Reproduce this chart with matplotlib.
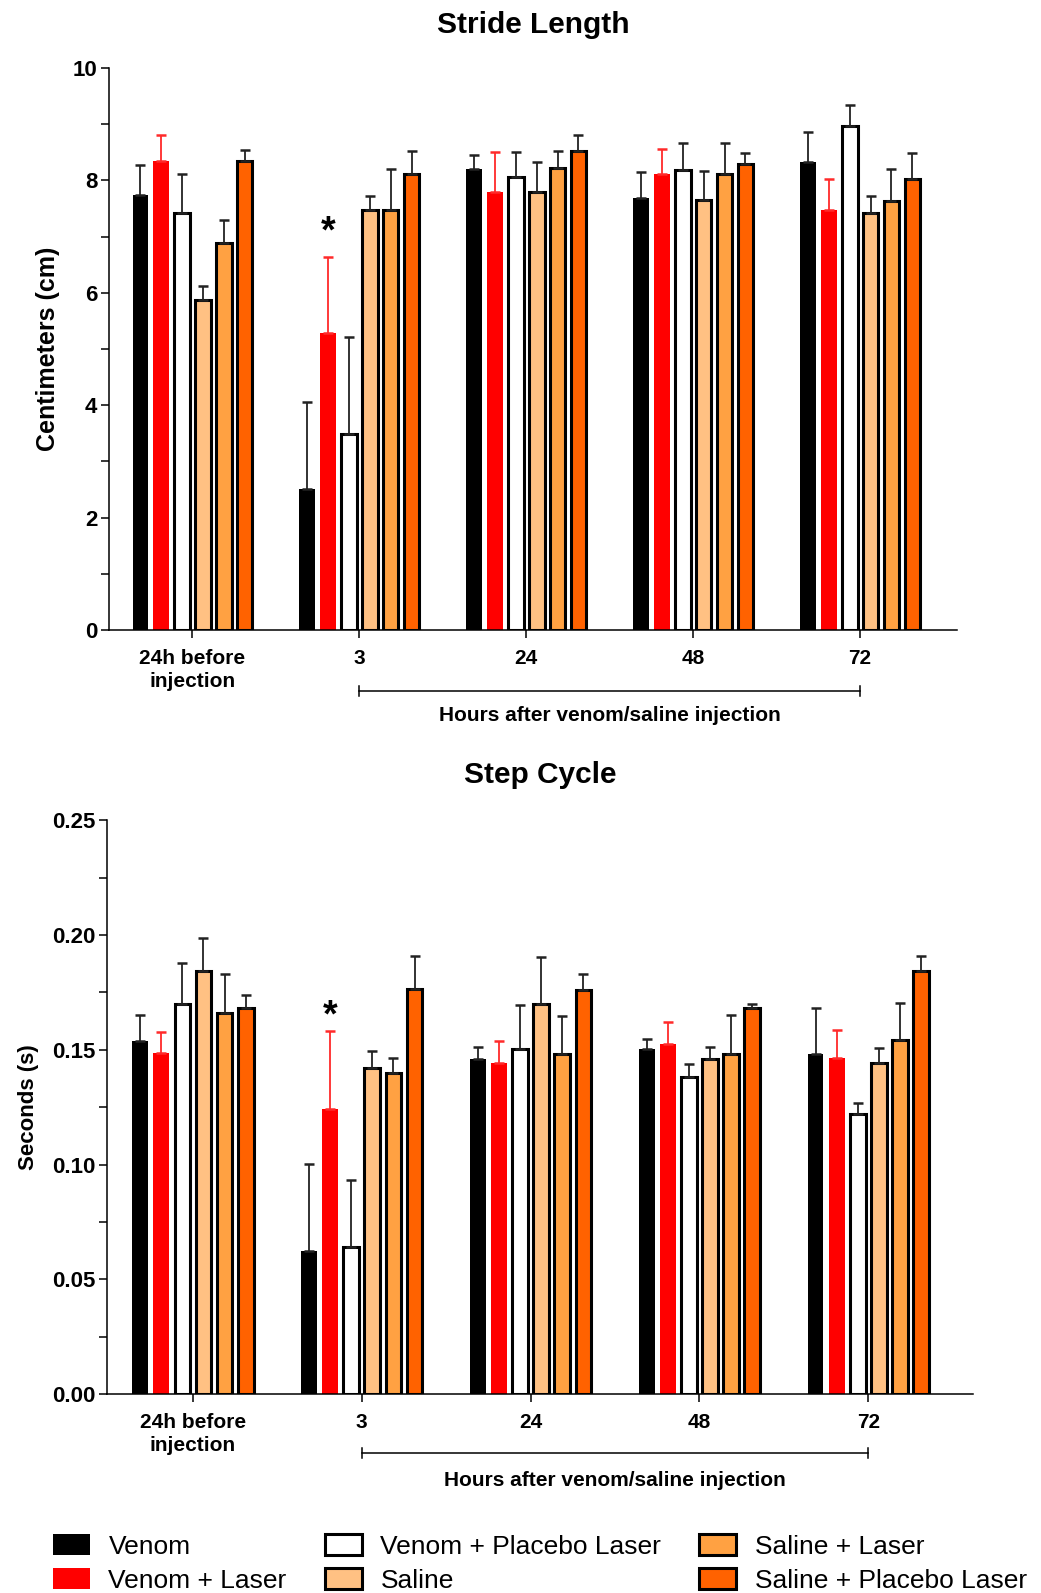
import matplotlib.pyplot as plt
import numpy as np
from matplotlib.ticker import MultipleLocator
import matplotlib.transforms as mtransforms

plt.rcParams['font.family'] = ['Liberation Sans', 'DejaVu Sans']

# groups and series
groups = ['24h before\ninjection', '3', '24', '48', '72']
series = ['Venom', 'Venom + Laser', 'Venom + Placebo Laser',
          'Saline', 'Saline + Laser', 'Saline + Placebo Laser']
face_colors = ['black', '#ff0000', 'white', '#ffc183', '#ffa142', '#ff6200']
edge_colors = ['black', '#ff0000', 'black', 'black', 'black', 'black']
err_colors = ['#222222', '#ff2a2a', '#222222', '#222222', '#222222', '#222222']

# Stride length (cm): means and SEM
stride_venom = [7.74, 2.51, 8.21, 7.68, 8.32]
stride_venom_err = [0.53, 1.55, 0.25, 0.47, 0.55]
stride_venom_laser = [8.35, 5.28, 7.79, 8.12, 7.48]
stride_venom_laser_err = [0.45, 1.36, 0.72, 0.44, 0.54]
stride_venom_placebo = [7.42, 3.48, 8.06, 8.19, 8.96]
stride_venom_placebo_err = [0.69, 1.73, 0.45, 0.48, 0.39]
stride_saline = [5.88, 7.47, 7.79, 7.66, 7.42]
stride_saline_err = [0.24, 0.26, 0.53, 0.51, 0.30]
stride_saline_laser = [6.89, 7.47, 8.22, 8.11, 7.63]
stride_saline_laser_err = [0.41, 0.73, 0.30, 0.56, 0.58]
stride_saline_placebo = [8.34, 8.11, 8.52, 8.30, 8.02]
stride_saline_placebo_err = [0.21, 0.41, 0.29, 0.18, 0.47]

# Step cycle (s): means and SEM
step_venom = [0.154, 0.0623, 0.1461, 0.1503, 0.1483]
step_venom_err = [0.011, 0.038, 0.0052, 0.0042, 0.020]
step_venom_laser = [0.1484, 0.1243, 0.1444, 0.1525, 0.1463]
step_venom_laser_err = [0.0093, 0.034, 0.0095, 0.0097, 0.0123]
step_venom_placebo = [0.170, 0.0641, 0.1502, 0.138, 0.1221]
step_venom_placebo_err = [0.0177, 0.0291, 0.0192, 0.0058, 0.0048]
step_saline = [0.1843, 0.1419, 0.1701, 0.146, 0.1441]
step_saline_err = [0.0142, 0.0074, 0.0202, 0.0052, 0.0068]
step_saline_laser = [0.1662, 0.140, 0.1481, 0.1481, 0.1541]
step_saline_laser_err = [0.0168, 0.0064, 0.0165, 0.0169, 0.0163]
step_saline_placebo = [0.1682, 0.1763, 0.1762, 0.1682, 0.1843]
step_saline_placebo_err = [0.0057, 0.0145, 0.0068, 0.0017, 0.0067]

stride_means = [stride_venom, stride_venom_laser, stride_venom_placebo,
                stride_saline, stride_saline_laser, stride_saline_placebo]
stride_errs = [stride_venom_err, stride_venom_laser_err, stride_venom_placebo_err,
               stride_saline_err, stride_saline_laser_err, stride_saline_placebo_err]
step_means = [step_venom, step_venom_laser, step_venom_placebo,
              step_saline, step_saline_laser, step_saline_placebo]
step_errs = [step_venom_err, step_venom_laser_err, step_venom_placebo_err,
             step_saline_err, step_saline_laser_err, step_saline_placebo_err]

fig = plt.figure(figsize=(10.41, 15.93), dpi=100)
ax1 = fig.add_axes([0.1047, 0.6045, 0.8146, 0.3528])
ax2 = fig.add_axes([0.1031, 0.1249, 0.8316, 0.3602])

x = np.arange(len(groups))
step = 0.125
width = 0.093


def draw(ax, means, errs):
    handles = []
    for i in range(len(series)):
        lw = 0 if i < 2 else 2.2
        b = ax.bar(x + (i - 2.5) * step, means[i], width,
                   color=face_colors[i], edgecolor=edge_colors[i], linewidth=lw,
                   yerr=[np.zeros(len(groups)), errs[i]],
                   error_kw=dict(ecolor=err_colors[i], elinewidth=1.3,
                                 capsize=3.5, capthick=1.8),
                   label=series[i])
        handles.append(b)
    for s in ['top', 'right']:
        ax.spines[s].set_visible(False)
    for s in ['left', 'bottom']:
        ax.spines[s].set_linewidth(1.1)
    ax.set_xticks(x)
    ax.set_xticklabels(groups, fontsize=15, fontweight='bold', linespacing=1.25)
    ax.tick_params(axis='x', length=6, width=1.1, pad=8)
    ax.tick_params(axis='y', which='both', length=5.5, width=1.1, pad=3)
    return handles


handles = draw(ax1, stride_means, stride_errs)
ax1.set_ylim(0, 10)
ax1.set_xlim(-0.5, 4.58)
ax1.yaxis.set_minor_locator(MultipleLocator(1))
ax1.set_yticks([0, 2, 4, 6, 8, 10])
ax1.set_yticklabels(['0', '2', '4', '6', '8', '10'], fontweight='bold', fontsize=16)
ax1.set_ylabel('Centimeters (cm)', fontsize=18, fontweight='bold')
ax1.yaxis.set_label_coords(-0.0575, 0.5)
ax1.set_title('Stride Length', fontsize=21.5, fontweight='bold', pad=25)
ax1.text(1 - 1.5 * step, 6.75, '*', ha='center', va='bottom', fontsize=27, fontweight='bold')

draw(ax2, step_means, step_errs)
ax2.set_ylim(0, 0.25)
ax2.set_xlim(-0.507, 4.62)
ax2.yaxis.set_minor_locator(MultipleLocator(0.025))
ax2.set_yticks([0, 0.05, 0.10, 0.15, 0.20, 0.25])
ax2.set_yticklabels(['0.00', '0.05', '0.10', '0.15', '0.20', '0.25'], fontweight='bold', fontsize=16)
ax2.set_ylabel('Seconds (s)', fontsize=16, fontweight='bold')
ax2.yaxis.set_label_coords(-0.079, 0.5)
ax2.set_title('Step Cycle', fontsize=21.5, fontweight='bold', pad=27)
ax2.text(1 - 1.5 * step, 0.1565, '*', ha='center', va='bottom', fontsize=27, fontweight='bold')

# bracket for the post-injection hours
for ax, yb, yt in [(ax1, -0.108, -0.152), (ax2, -0.103, -0.151)]:
    tr = mtransforms.blended_transform_factory(ax.transData, ax.transAxes)
    ax.plot([1, 4], [yb, yb], color='black', lw=1.1, transform=tr, clip_on=False)
    for xe in [1, 4]:
        ax.plot([xe, xe], [yb - 0.009, yb + 0.009], color='black', lw=1.1,
                transform=tr, clip_on=False)
    ax.text(2.5, yt, 'Hours after venom/saline injection', transform=tr,
            ha='center', va='center', fontsize=15, fontweight='bold')

fig.legend(handles, series, ncol=3, loc='upper left',
           bbox_to_anchor=(53 / 1041, 1 - 1534 / 1593), frameon=False,
           prop={'family': ['Liberation Sans Narrow', 'Liberation Sans'], 'size': 19},
           handlelength=1.4, handleheight=0.85, handletextpad=0.7,
           columnspacing=1.45, labelspacing=0.36, borderpad=0, borderaxespad=0)

fig.savefig('out.png', dpi=100)
